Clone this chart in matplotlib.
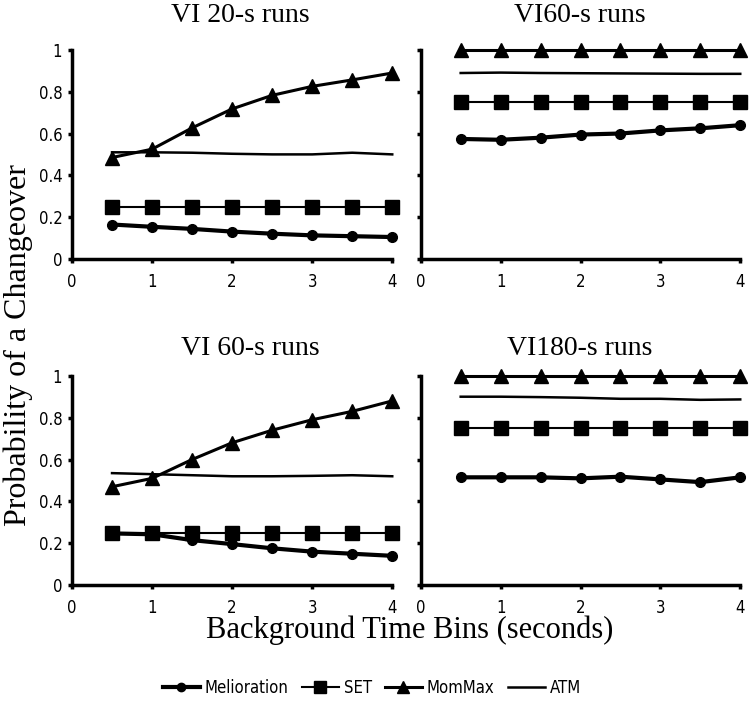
import matplotlib
matplotlib.use("Agg")
import matplotlib.pyplot as plt
from matplotlib.lines import Line2D

x = [0.5, 1.0, 1.5, 2.0, 2.5, 3.0, 3.5, 4.0]
titles = ["VI 20-s runs", "VI60-s runs", "VI 60-s runs", "VI180-s runs"]

melioration = [
    [0.164, 0.153, 0.143, 0.130, 0.120, 0.112, 0.108, 0.104],
    [0.574, 0.570, 0.580, 0.595, 0.600, 0.615, 0.625, 0.640],
    [0.247, 0.243, 0.215, 0.196, 0.176, 0.160, 0.150, 0.140],
    [0.515, 0.515, 0.515, 0.510, 0.518, 0.505, 0.492, 0.515],
]
set_vals = [
    [0.25] * 8,
    [0.75] * 8,
    [0.25] * 8,
    [0.75] * 8,
]
mommax = [
    [0.485, 0.525, 0.627, 0.718, 0.783, 0.826, 0.857, 0.890],
    [1.0] * 8,
    [0.470, 0.510, 0.600, 0.680, 0.740, 0.790, 0.830, 0.880],
    [1.0] * 8,
]
atm = [
    [0.510, 0.510, 0.508, 0.503, 0.500, 0.500, 0.508, 0.500],
    [0.890, 0.892, 0.890, 0.889, 0.888, 0.887, 0.886, 0.886],
    [0.535, 0.530, 0.525, 0.520, 0.520, 0.522, 0.525, 0.520],
    [0.900, 0.900, 0.898, 0.895, 0.890, 0.890, 0.885, 0.887],
]
legend_labels = ["Melioration", "SET", "MomMax", "ATM"]
xticks = [0, 1, 2, 3, 4]
yticks = [0, 0.2, 0.4, 0.6, 0.8, 1.0]
ytick_labels = ["0", "0.2", "0.4", "0.6", "0.8", "1"]

serif = ["Liberation Serif", "DejaVu Serif"]
sans = "DejaVu Sans"

W, H = 750, 705
fig = plt.figure(figsize=(7.5, 7.05), dpi=100)
positions = [
    [0.096, 0.633, 0.427, 0.296],
    [0.561, 0.633, 0.426, 0.296],
    [0.096, 0.170, 0.427, 0.297],
    [0.561, 0.170, 0.426, 0.297],
]
title_pos = [(240, 16), (580, 16), (250, 349), (580, 349)]

for i, pos in enumerate(positions):
    ax = fig.add_axes(pos)
    ax.plot(x, melioration[i], color="black", lw=3.0, marker="o", ms=7, clip_on=False, zorder=4)
    ax.plot(x, set_vals[i], color="black", lw=1.5, marker="s", ms=10, clip_on=False, zorder=3)
    ax.plot(x, mommax[i], color="black", lw=2.2, marker="^", ms=10, clip_on=False, zorder=5)
    ax.plot(x, atm[i], color="black", lw=1.8, clip_on=False, zorder=2)
    ax.set_xlim(0, 4)
    ax.set_ylim(0, 1)
    ax.set_xticks(xticks)
    ax.set_yticks(yticks)
    ax.set_xticklabels([str(t) for t in xticks], fontfamily=sans, fontstretch="condensed")
    if i % 2 == 0:
        ax.set_yticklabels(ytick_labels, fontfamily=sans, fontstretch="condensed")
    else:
        ax.set_yticklabels([])
    for s in ["top", "right"]:
        ax.spines[s].set_visible(False)
    for s in ["left", "bottom"]:
        ax.spines[s].set_linewidth(2.5)
    ax.tick_params(axis="both", direction="out", length=3, width=2.5, labelsize=12)
    ax.tick_params(axis="x", pad=7)
    ax.tick_params(axis="y", pad=4)
    tx, ty = title_pos[i]
    fig.text(tx / W, 1 - ty / H, titles[i], ha="center", va="center",
             fontfamily=serif, fontsize=20)

fig.text(0.024, 1 - 345 / H, "Probability of a Changeover", rotation=90, ha="center", va="center",
         fontfamily=serif, fontsize=23)
fig.text(410 / W, 1 - 630 / H, "Background Time Bins (seconds)", ha="center", va="center",
         fontfamily=serif, fontsize=22)

handles = [
    Line2D([], [], color="black", lw=3.0, marker="o", ms=6),
    Line2D([], [], color="black", lw=1.5, marker="s", ms=9),
    Line2D([], [], color="black", lw=2.2, marker="^", ms=8),
    Line2D([], [], color="black", lw=1.8),
]
fig.legend(handles, legend_labels, loc="center", bbox_to_anchor=(372 / W, 1 - 688 / H), ncol=4,
           frameon=False, prop={"family": sans, "size": 12, "stretch": "condensed"},
           handlelength=2.2, handletextpad=0.3, columnspacing=0.8)

fig.savefig("out.png", dpi=100)
